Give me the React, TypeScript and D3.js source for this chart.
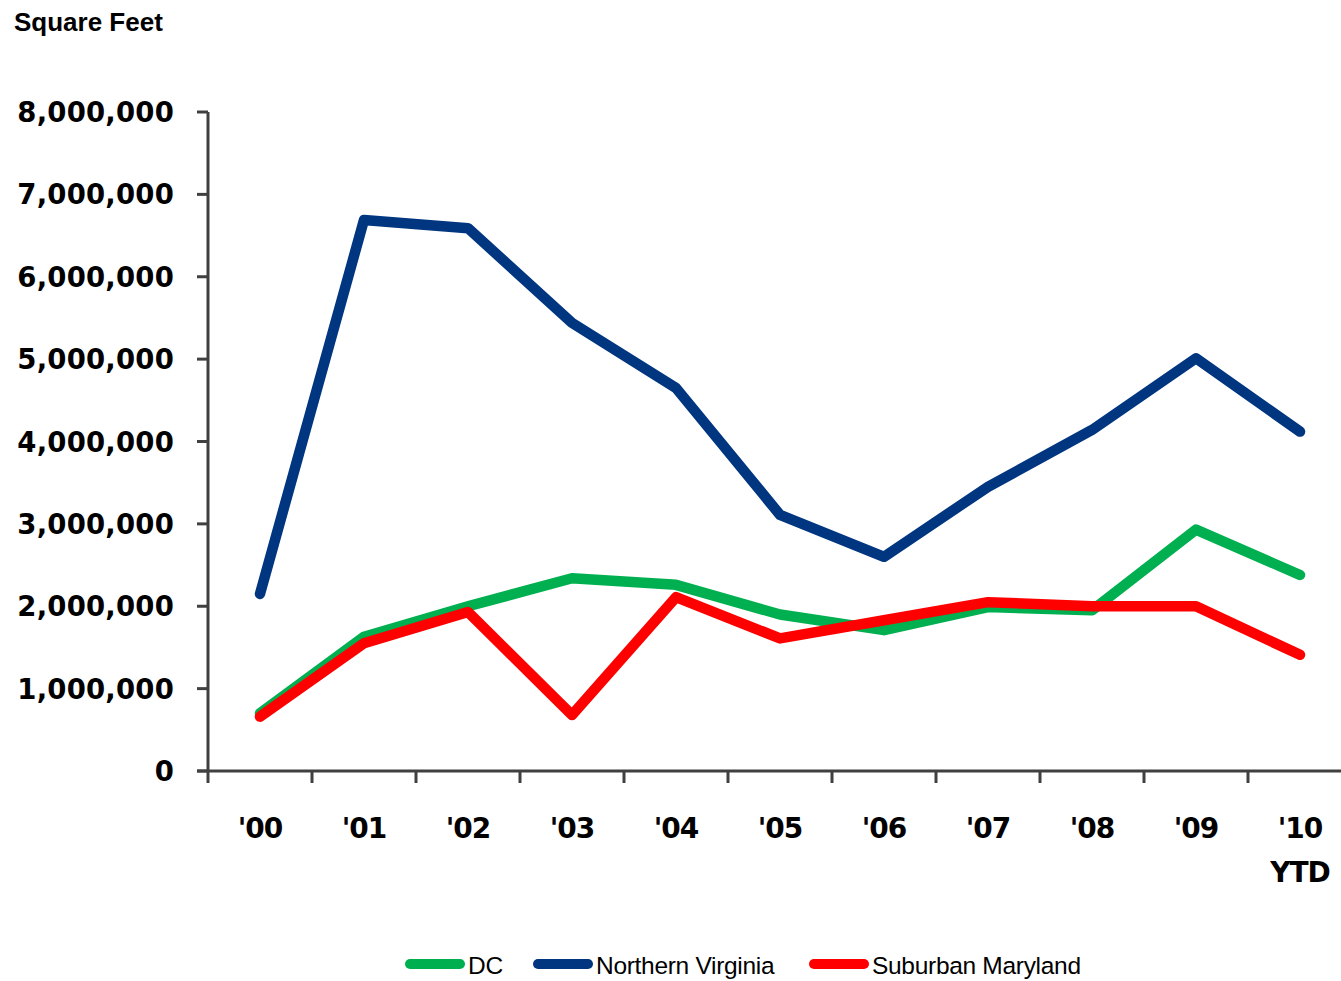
import React from "react";
import * as d3 from "d3";

const categories = ["'00", "'01", "'02", "'03", "'04", "'05", "'06", "'07", "'08", "'09", "'10"];
const dcValues = [700000, 1630000, 2000000, 2340000, 2260000, 1900000, 1710000, 1990000, 1950000, 2930000, 2380000];
const novaValues = [2150000, 6690000, 6590000, 5440000, 4650000, 3110000, 2600000, 3450000, 4140000, 5010000, 4120000];
const smValues = [660000, 1550000, 1930000, 680000, 2110000, 1610000, 1830000, 2050000, 2000000, 2000000, 1410000];
const yTicks = [0, 1000000, 2000000, 3000000, 4000000, 5000000, 6000000, 7000000, 8000000];
const seriesNames = ["DC", "Northern Virginia", "Suburban Maryland"];
const seriesColors = ["#00B050", "#003580", "#FF0000"];

export default function App() {
  const W = 1341, H = 981;
  const x0 = 208, x1 = 1352;
  const yTop = 112, yBot = 771;
  const x = d3.scaleBand().domain(categories).range([x0, x1]).paddingInner(0).paddingOuter(0);
  const y = d3.scaleLinear().domain([0, 8000000]).range([yBot, yTop]);
  const fmt = d3.format(",");
  const line = d3.line<number>()
    .x((_, i) => (x(categories[i]) as number) + x.bandwidth() / 2)
    .y((d) => y(d));
  const allSeries = [dcValues, novaValues, smValues];
  const drawOrder = [1, 0, 2];
  const tickFont = "'DejaVu Sans', Verdana, sans-serif";
  return (
    <svg width={W} height={H} style={{ position: "absolute", left: 0, top: 0, background: "#fff" }}>
      <text x={14} y={31} fontFamily="'Liberation Sans', Arial, sans-serif" fontWeight="bold" fontSize={26} fill="#000">Square Feet</text>
      {/* y axis */}
      <line x1={x0} x2={x0} y1={yTop} y2={yBot} stroke="#404040" strokeWidth={3} />
      {yTicks.map((t) => (
        <g key={t}>
          <line x1={x0 - 11} x2={x0} y1={y(t)} y2={y(t)} stroke="#404040" strokeWidth={3} />
          <text x={174} y={y(t) + 10} textAnchor="end" fontFamily={tickFont} fontWeight="bold" fontSize={27.5} fill="#000" letterSpacing={0.2}>{fmt(t)}</text>
        </g>
      ))}
      {/* x axis */}
      <line x1={x0 - 11} x2={W} y1={yBot} y2={yBot} stroke="#404040" strokeWidth={3} />
      {categories.map((c) => (
        <line key={"t" + c} x1={x(c) as number} x2={x(c) as number} y1={yBot} y2={yBot + 12} stroke="#404040" strokeWidth={3} />
      ))}
      {categories.map((c, i) => (
        <g key={"l" + c}>
          <text x={(x(c) as number) + x.bandwidth() / 2} y={838} textAnchor="middle" fontFamily={tickFont} fontWeight="bold" fontSize={28} fill="#000" letterSpacing={-1}>{c}</text>
          {i === categories.length - 1 && (
            <text x={(x(c) as number) + x.bandwidth() / 2} y={882} textAnchor="middle" fontFamily={tickFont} fontWeight="bold" fontSize={28} fill="#000" letterSpacing={-1}>YTD</text>
          )}
        </g>
      ))}
      {/* lines */}
      {drawOrder.map((si) => (
        <path key={"s" + si} d={line(allSeries[si]) || ""} fill="none" stroke={seriesColors[si]} strokeWidth={10.5} strokeLinejoin="round" strokeLinecap="round" />
      ))}
      {/* legend */}
      {[
        { i: 0, lx: 410, tx: 468 },
        { i: 1, lx: 538, tx: 596 },
        { i: 2, lx: 814, tx: 872 },
      ].map(({ i, lx, tx }) => (
        <g key={"lg" + i}>
          <line x1={lx} x2={lx + 50} y1={964} y2={964} stroke={seriesColors[i]} strokeWidth={10} strokeLinecap="round" />
          <text x={tx} y={974} fontFamily="'Liberation Sans', Arial, sans-serif" fontSize={24.5} fill="#000" letterSpacing={-0.3}>{seriesNames[i]}</text>
        </g>
      ))}
    </svg>
  );
}
